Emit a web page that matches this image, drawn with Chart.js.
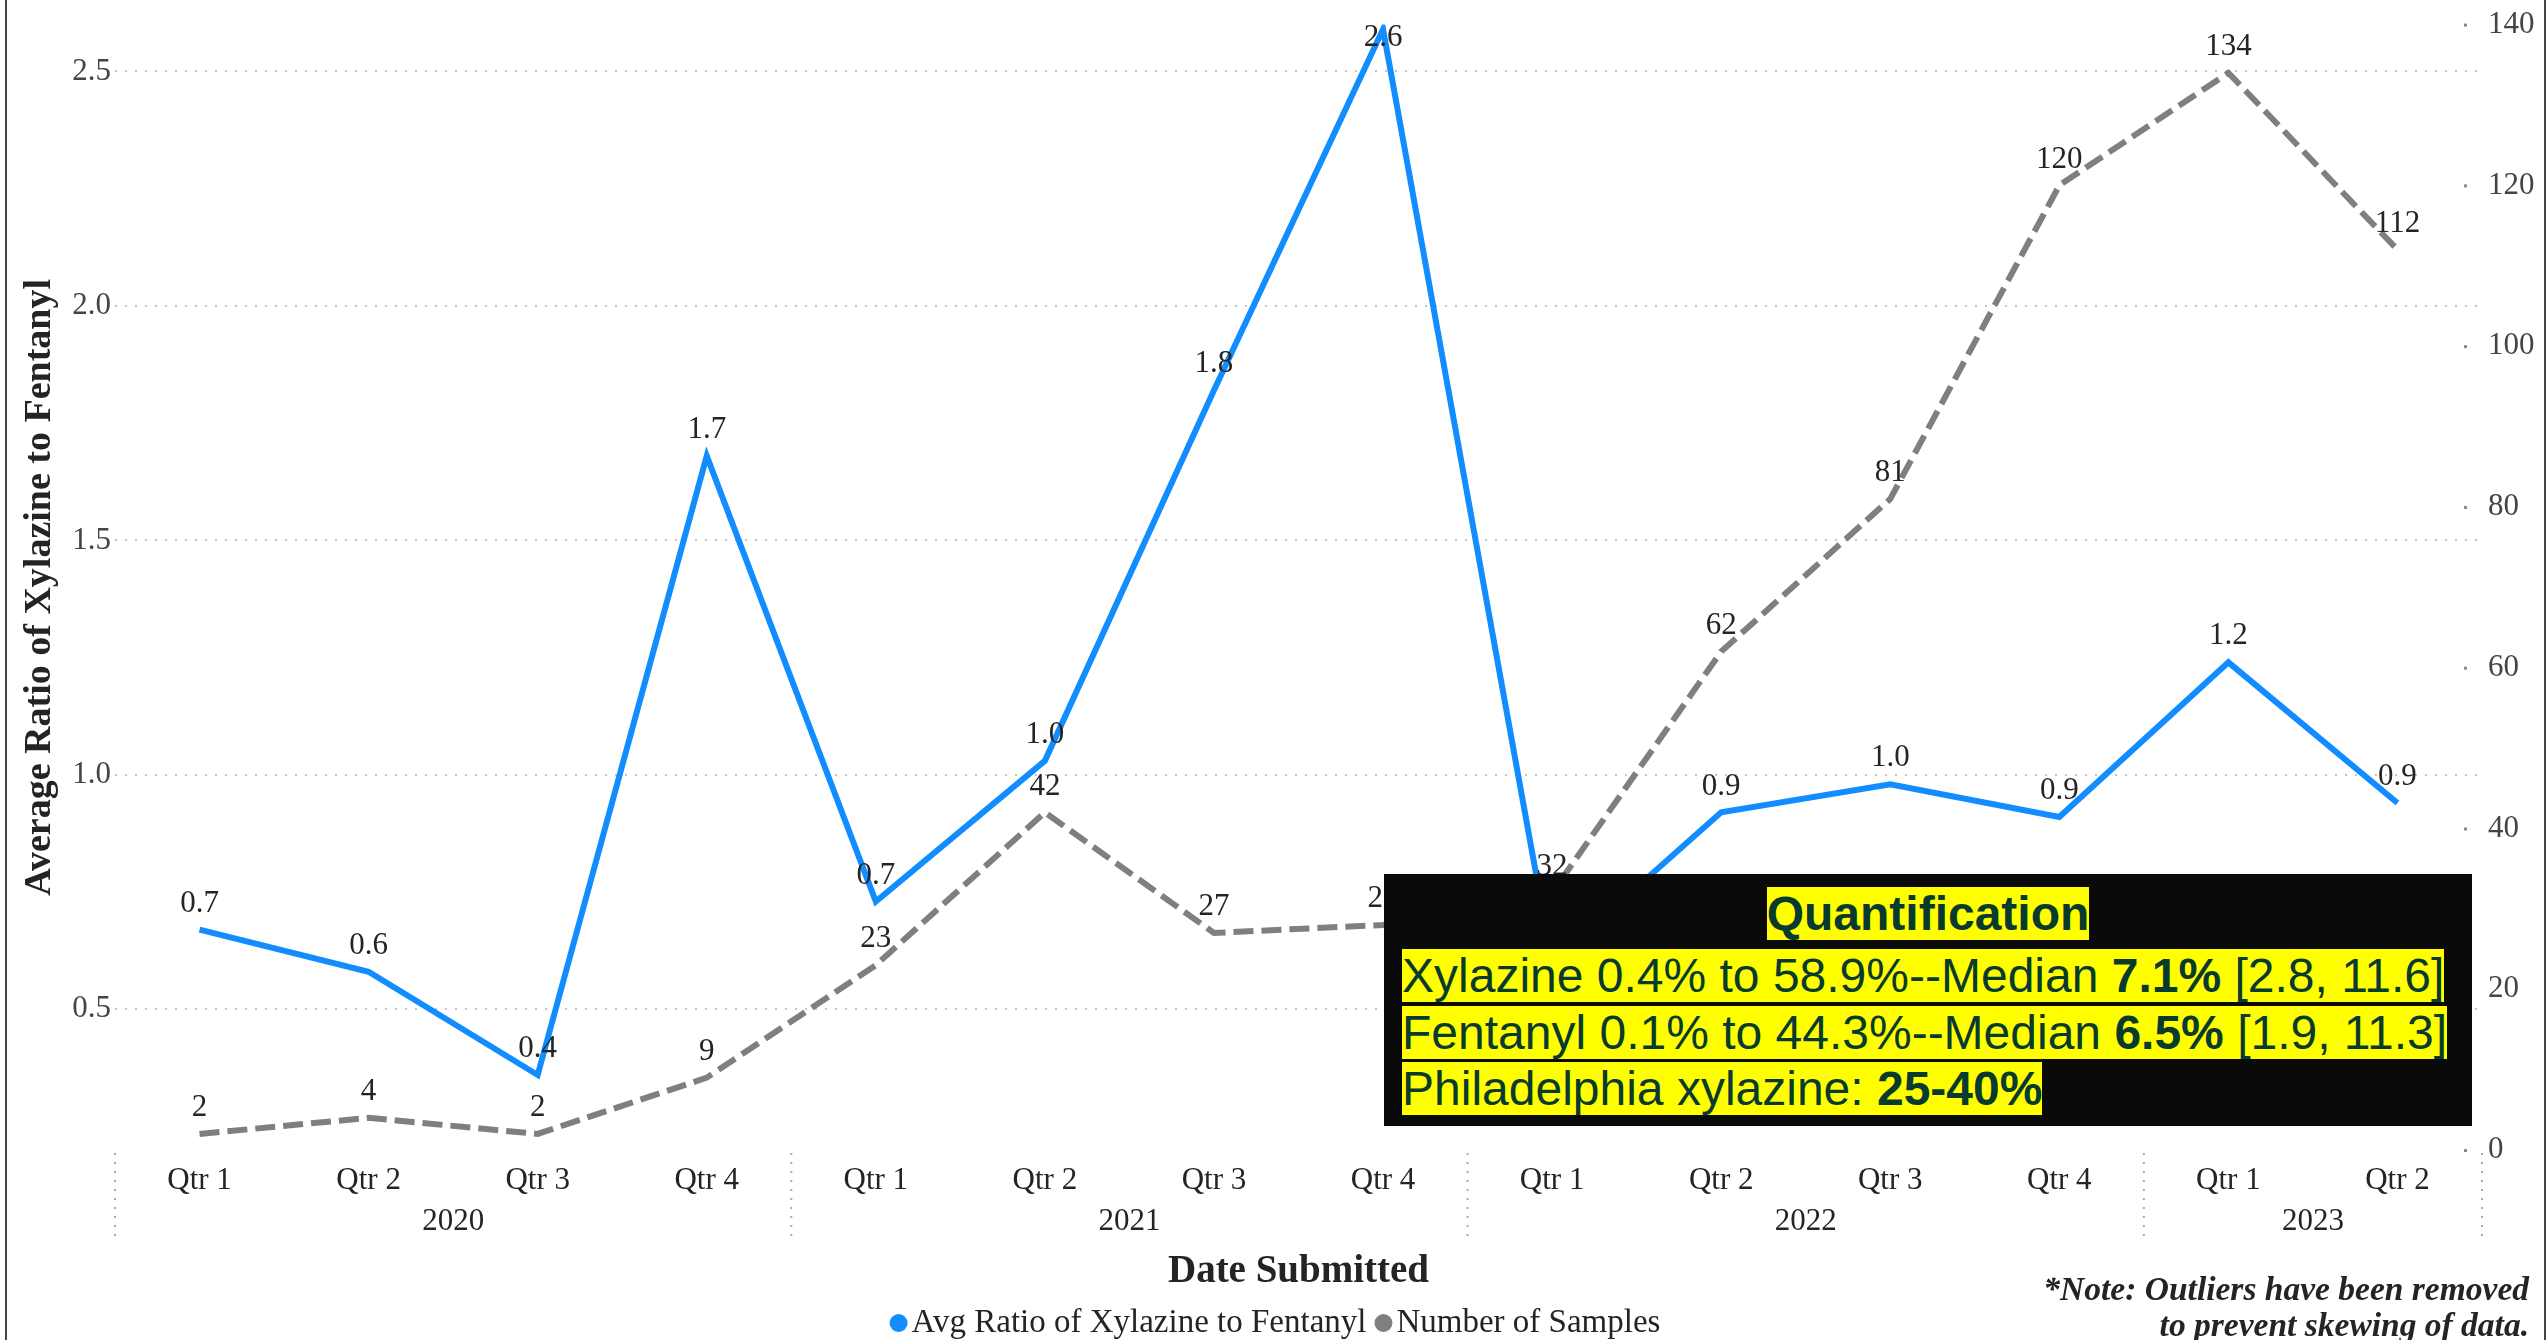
<!DOCTYPE html>
<html lang="en">
<head>
<meta charset="UTF-8" />
<title>Avg Ratio of Xylazine to Fentanyl</title>
<script src="https://cdn.jsdelivr.net/npm/chart.js"></script>
<style>
  body { margin: 0; background: #fff; }
  #wrap { position: relative; width: 2547px; height: 1340px; overflow: hidden; }
  #quant {
    position: absolute; left: 1384px; top: 874px; width: 1088px; height: 252px;
    background: #0a0a0a; color: #083b2e;
    font-family: "Liberation Sans", Arial, sans-serif; font-size: 48px;
  }
  #quant div { position: absolute; left: 18px; white-space: nowrap; line-height: normal; }
  #quant span { background: #ffff00; }
  #quant .head { left: 0; width: 100%; text-align: center; font-weight: bold; }
</style>
</head>
<body>
<div id="wrap">
  <canvas id="chart"></canvas>
  <div id="quant">
    <div class="head" style="top: 12px"><span>Quantification</span></div>
    <div style="top: 74px"><span>Xylazine 0.4% to 58.9%--Median <b>7.1%</b> [2.8, 11.6]</span></div>
    <div style="top: 131px"><span>Fentanyl 0.1% to 44.3%--Median <b>6.5%</b> [1.9, 11.3]</span></div>
    <div style="top: 187px"><span>Philadelphia xylazine: <b>25-40%</b></span></div>
  </div>
</div>

<script>
// data
const quarters = ["Qtr 1", "Qtr 2", "Qtr 3", "Qtr 4", "Qtr 1", "Qtr 2", "Qtr 3", "Qtr 4",
                  "Qtr 1", "Qtr 2", "Qtr 3", "Qtr 4", "Qtr 1", "Qtr 2"];
const quarterYears = ["2020", "2020", "2020", "2020", "2021", "2021", "2021", "2021",
                      "2022", "2022", "2022", "2022", "2023", "2023"];
const avgRatio = [0.67, 0.58, 0.36, 1.68, 0.73, 1.03, 1.82, 2.59, 0.60, 0.92, 0.98, 0.91, 1.24, 0.94];
const sampleCounts = [2, 4, 2, 9, 23, 42, 27, 28, 32, 62, 81, 120, 134, 112];
const ratioTicks = [0.5, 1.0, 1.5, 2.0, 2.5];
const countTicks = [0, 20, 40, 60, 80, 100, 120, 140];

const SERIF = '"Liberation Serif", "Times New Roman", serif';
const BLUE = "#118dff";
const GREY = "#7f7f7f";
const TEXT = "#252423";

const extras = {
  id: "extras",
  afterDatasetsDraw(chart) {
    const ctx = chart.ctx;
    const top = chart.chartArea.top;
    ctx.save();
    ctx.font = "31px " + SERIF;
    ctx.fillStyle = TEXT;
    ctx.textAlign = "center";
    ctx.textBaseline = "middle";
    chart.data.datasets.forEach((ds, di) => {
      const meta = chart.getDatasetMeta(di);
      meta.data.forEach((pt, i) => {
        const txt = di === 0 ? ds.data[i].toFixed(1) : String(ds.data[i]);
        const y = Math.max(pt.y - 26, top + 13);
        ctx.fillText(txt, pt.x, y);
      });
    });
    ctx.restore();
  },
  afterDraw(chart) {
    const ctx = chart.ctx;
    const x = chart.scales.x;
    const y1 = chart.scales.y1;
    const area = chart.chartArea;
    const half = (x.getPixelForValue(1) - x.getPixelForValue(0)) / 2;
    ctx.save();

    // small tick dots for the right axis
    ctx.fillStyle = "#888";
    countTicks.forEach(v => ctx.fillRect(area.right - 18, y1.getPixelForValue(v) - 1, 3, 3));

    // year groups under the quarter labels
    const groups = [];
    quarterYears.forEach((yr, i) => {
      const g = groups[groups.length - 1];
      if (g && g.year === yr) g.end = i;
      else groups.push({ year: yr, start: i, end: i });
    });
    ctx.strokeStyle = "#aaaaaa";
    ctx.lineWidth = 2;
    ctx.setLineDash([2, 7]);
    const edges = groups.map(g => x.getPixelForValue(g.start) - half);
    edges.push(x.getPixelForValue(groups[groups.length - 1].end) + half);
    edges.forEach(px => {
      ctx.beginPath();
      ctx.moveTo(px, area.bottom + 3);
      ctx.lineTo(px, area.bottom + 88);
      ctx.stroke();
    });
    ctx.setLineDash([]);
    ctx.font = "31px " + SERIF;
    ctx.fillStyle = TEXT;
    ctx.textAlign = "center";
    ctx.textBaseline = "middle";
    groups.forEach(g => {
      const cx = (x.getPixelForValue(g.start) + x.getPixelForValue(g.end)) / 2;
      ctx.fillText(g.year, cx, area.bottom + 72);
    });

    // legend
    const items = chart.data.datasets.map(ds => ({ label: ds.label, color: ds.borderColor }));
    ctx.font = "33px " + SERIF;
    const r = 9, gapDot = 4, gapItem = 8;
    let total = 0;
    items.forEach((it, i) => {
      it.w = ctx.measureText(it.label).width;
      total += 2 * r + gapDot + it.w + (i ? gapItem : 0);
    });
    let lx = 1275 - total / 2;
    const ly = 1323;
    ctx.textAlign = "left";
    items.forEach((it, i) => {
      if (i) lx += gapItem;
      ctx.fillStyle = it.color;
      ctx.beginPath();
      ctx.arc(lx + r, ly, r, 0, Math.PI * 2);
      ctx.fill();
      lx += 2 * r + gapDot;
      ctx.fillStyle = TEXT;
      ctx.fillText(it.label, lx, ly);
      lx += it.w;
    });

    // note
    ctx.font = "italic bold 33.5px " + SERIF;
    ctx.textAlign = "right";
    ctx.fillStyle = TEXT;
    ctx.fillText("*Note: Outliers have been removed", 2529, 1291);
    ctx.fillText("to prevent skewing of data.", 2529, 1327);

    // frame lines left and right
    ctx.fillStyle = "#444";
    ctx.fillRect(5, 0, 2, chart.height);
    ctx.fillRect(2544, 0, 2, chart.height);
    ctx.restore();
  }
};

new Chart(document.getElementById("chart"), {
  type: "line",
  data: {
    labels: quarters,
    datasets: [
      {
        label: "Avg Ratio of Xylazine to Fentanyl",
        data: avgRatio,
        yAxisID: "y",
        borderColor: BLUE,
        backgroundColor: BLUE,
        borderWidth: 6,
        pointRadius: 0,
        tension: 0,
        order: 0
      },
      {
        label: "Number of Samples",
        data: sampleCounts,
        yAxisID: "y1",
        borderColor: GREY,
        backgroundColor: GREY,
        borderWidth: 6,
        borderDash: [20, 8],
        pointRadius: 0,
        tension: 0,
        order: 1
      }
    ]
  },
  options: {
    responsive: true,
    maintainAspectRatio: false,
    animation: false,
    layout: { padding: { top: 23, left: 0, right: 0, bottom: 0 } },
    plugins: {
      legend: { display: false },
      tooltip: { enabled: false }
    },
    scales: {
      x: {
        offset: true,
        grid: { display: false },
        border: { display: false },
        ticks: { color: TEXT, font: { family: SERIF, size: 31 }, padding: 4, maxRotation: 0, autoSkip: false },
        title: {
          display: true,
          text: "Date Submitted",
          color: TEXT,
          font: { family: SERIF, size: 39, weight: "bold" },
          padding: { top: 0, bottom: 45 }
        },
        afterFit(scale) { scale.height = 190; }
      },
      y: {
        position: "left",
        min: 0.2,
        max: 2.6,
        afterBuildTicks(scale) { scale.ticks = ratioTicks.map(v => ({ value: v })); },
        grid: { color: "#c4c4c4", lineWidth: 2, drawTicks: false },
        border: { display: false, dash: [2, 8] },
        ticks: { color: "#444", font: { family: SERIF, size: 31 }, padding: 4, callback: v => v.toFixed(1) },
        title: {
          display: true,
          text: "Average Ratio of Xylazine to Fentanyl",
          color: TEXT,
          font: { family: SERIF, size: 38, weight: "bold" },
          padding: { top: 17, bottom: 0 }
        },
        afterFit(scale) { scale.width = 115; }
      },
      y1: {
        position: "right",
        min: 0,
        max: 140,
        afterBuildTicks(scale) { scale.ticks = countTicks.map(v => ({ value: v })); },
        grid: { drawOnChartArea: false, drawTicks: false },
        border: { display: false },
        ticks: { color: "#444", font: { family: SERIF, size: 31 }, padding: 6 },
        afterFit(scale) { scale.width = 65; }
      }
    }
  },
  plugins: [extras]
});
</script>
</body>
</html>
